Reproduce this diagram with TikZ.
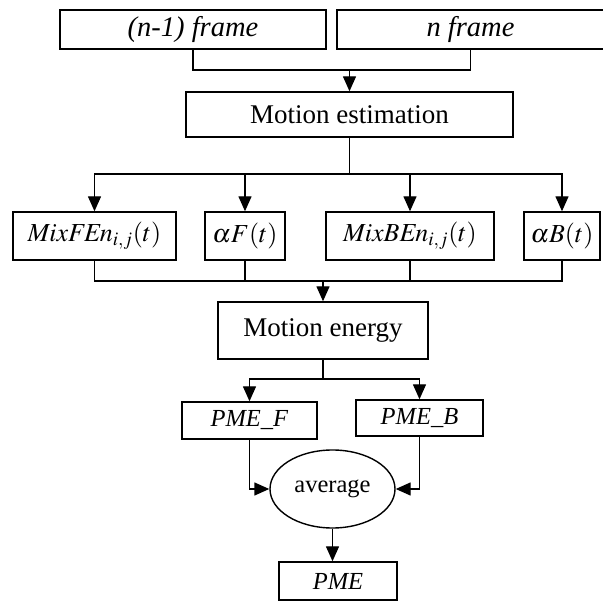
\documentclass[tikz,border=0pt]{standalone}
\usepackage{mathptmx}
\usepackage{fontspec}
\setmainfont{Liberation Serif}
\usetikzlibrary{arrows.meta,shapes.geometric}

\begin{document}
\begin{tikzpicture}[x=1pt, y=-1pt, font=\fontsize{24.5}{29}\selectfont,
  box/.style={draw, line width=1.4pt, inner sep=0pt},
  big/.style={font=\fontsize{27}{32}\selectfont},
  frm/.style={font=\fontsize{28.5}{34}\selectfont},
  eqn/.style={font=\fontsize{26}{31}\selectfont},
  link/.style={line width=1.4pt},
  arr/.style={link, -{Triangle[length=15pt,width=13pt]}}]
\useasboundingbox (0,0) rectangle (603,601);
\node[box, frm, minimum width=266, minimum height=39] (prev) at (193,29.5) {\textit{(n-1) frame}};
\node[box, frm, minimum width=267, minimum height=39] (cur) at (470.5,29.5) {\textit{n frame}};
\node[box, big, minimum width=327, minimum height=45] (est) at (349.5,114.5) {Motion estimation};
\node[box, eqn, minimum width=163, minimum height=48] (mixf) at (94.5,236) {$\mathit{MixFEn}_{i,j}(t)$};
\node[box, eqn, minimum width=80, minimum height=48] (af) at (245,236) {$\alpha F(t)$};
\node[box, eqn, minimum width=168, minimum height=48] (mixb) at (410,236) {$\mathit{MixBEn}_{i,j}(t)$};
\node[box, eqn, minimum width=76, minimum height=48] (ab) at (562,236) {$\alpha B(t)$};
\node[box, big, minimum width=210, minimum height=57] (energy) at (323,330.5) {Motion energy};
\node[box, minimum width=135, minimum height=37] (pmef) at (249.5,420.5) {\textit{PME\_F}};
\node[box, minimum width=127, minimum height=36] (pmeb) at (419.5,418) {\textit{PME\_B}};
\node[box, ellipse, minimum width=125, minimum height=78] (avg) at (332.5,489) {average};
\node[box, minimum width=118, minimum height=38] (pme) at (338,581) {\textit{PME}};
% joins
\coordinate (j1) at (349.5,70);
\coordinate (j2) at (349.5,174);
\coordinate (j3) at (323,281);
\coordinate (j4) at (323,379);
\draw[link] (prev) |- (j1) -| (cur);
\draw[arr] (j1) -- (est);
\draw[link] (est) -- (j2);
\draw[arr] (j2) -| (mixf);
\draw[arr] (j2) -| (af);
\draw[arr] (j2) -| (mixb);
\draw[arr] (j2) -| (ab);
\draw[link] (mixf) |- (j3) -| (ab);
\draw[link] (af) -- (af |- j3);
\draw[link] (mixb) -- (mixb |- j3);
\draw[arr] (j3) -- (energy);
\draw[link] (energy) -- (j4);
\draw[arr] (j4) -| (pmef);
\draw[arr] (j4) -| (pmeb);
\draw[arr] (pmef) |- (avg);
\draw[arr] (pmeb) |- (avg);
\draw[arr] (avg) -- (avg |- pme.north);
\end{tikzpicture}
\end{document}
